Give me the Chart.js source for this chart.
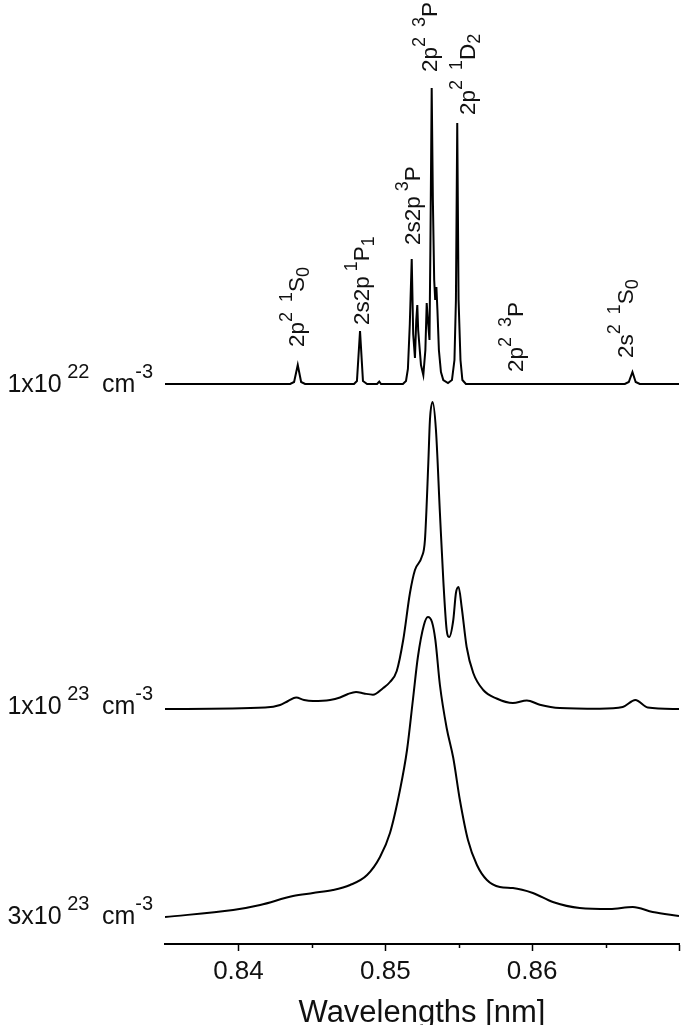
<!DOCTYPE html>
<html>
<head>
<meta charset="utf-8">
<script src="https://cdn.jsdelivr.net/npm/chart.js@4.4.1/dist/chart.umd.min.js"></script>
<style>
  html, body { margin: 0; padding: 0; background: #fff; }
  #wrap { width: 685px; height: 1025px; position: relative; }
</style>
</head>
<body>
<div id="wrap"><canvas id="myChart"></canvas></div>
<script>
// spectra (wavelength in nm, intensity in arbitrary units above each baseline)
const wl22 = [0.835, 0.84352, 0.84379, 0.84404, 0.84427, 0.84454, 0.84787, 0.84807, 0.84828, 0.84848, 0.84876, 0.84944, 0.84959, 0.84971,
    0.85120, 0.85141, 0.85154, 0.85167, 0.85180, 0.85190, 0.85202, 0.85211, 0.85218, 0.85224, 0.85231, 0.85243, 0.85259, 0.85273,
    0.85282, 0.85290, 0.85301, 0.85307, 0.85316, 0.85324, 0.85333, 0.85340, 0.85348, 0.85355, 0.85365, 0.85379, 0.85395, 0.85427,
    0.85454, 0.85471, 0.85481, 0.85490, 0.85499, 0.85512, 0.85525, 0.85549, 0.86631, 0.86658, 0.86683, 0.86705, 0.86733, 0.870]
const int22 = [0, 0, 2, 19, 2, 0, 0, 3, 53, 3, 0, 0, 2.5, 0,
    0, 3, 15, 60, 125, 50, 26, 64, 79, 54, 41, 19, 9, 34,
    81, 64, 44, 134, 296, 184, 104, 84, 97, 74, 34, 12, 4, 1,
    4, 24, 84, 261, 84, 24, 4, 0, 0, 2, 12, 2, 0, 0]

const wl23 = [0.835, 0.84182, 0.84284, 0.84338, 0.84393, 0.84447, 0.84508, 0.84624, 0.84692, 0.84746, 0.84801, 0.84855, 0.84916,
    0.84986, 0.85032, 0.85078, 0.85122, 0.85168, 0.85202, 0.85248, 0.85270, 0.85293, 0.85304, 0.85322, 0.85345, 0.85372, 0.85395,
    0.85418, 0.85435, 0.85463, 0.85481, 0.85499, 0.85520, 0.85554, 0.85599, 0.85667, 0.85758, 0.85869, 0.85964, 0.86052, 0.86188,
    0.86461, 0.86617, 0.86703, 0.86787, 0.870]
const int23 = [0, 1.5, 4, 8, 11.5, 9, 8, 9, 11.5, 15, 17, 15.5, 14.3,
    21, 27, 38, 69, 116, 139, 152, 169, 246, 289, 307, 279, 196, 129,
    79, 72, 89, 116, 122, 102, 62, 36, 19, 10.5, 6, 8.5, 4.3, 1,
    0.3, 2, 9, 1.5, 0]

const wl3e23 = [0.835, 0.83964, 0.84148, 0.84372, 0.84508, 0.84644, 0.84760, 0.84876, 0.84964, 0.85032, 0.85100, 0.85148,
    0.85188, 0.85222, 0.85263, 0.85290, 0.85318, 0.85341, 0.85372, 0.85418, 0.85463, 0.85508, 0.85563, 0.85624, 0.85692,
    0.85780, 0.85869, 0.86005, 0.86141, 0.86324, 0.86529, 0.86685, 0.86821, 0.870]
const int3e23 = [0, 7, 12, 21, 24, 27, 32, 42, 60, 84, 127, 167,
    217, 260, 292, 300, 295, 277, 232, 189, 159, 117, 77, 52, 37,
    30, 29, 24, 15, 9, 8, 10, 5, 1]

// vertical shift of each spectrum
const off22 = 560
const off23 = 235
const off3e23 = 27

const tickValues = [0.84, 0.85, 0.86, 0.87]
const tickLabels = ['0.84', '0.85', '0.86', '']
const minorTicks = [0.845, 0.855, 0.865]

// density labels on the left: [text, kind]
const densityLabels = [
    { parts: [['1x10', 'n'], [' 22 ', 'sup'], [' cm', 'n'], ['-3', 'sup']], y: 552 },
    { parts: [['1x10', 'n'], [' 23 ', 'sup'], [' cm', 'n'], ['-3', 'sup']], y: 230 },
    { parts: [['3x10', 'n'], [' 23 ', 'sup'], [' cm', 'n'], ['-3', 'sup']], y: 20 }
]

// line identifications (rotated text), wl = baseline position, y = bottom of the text
const lineLabels = [
    { parts: [['2p', 'n'], ['2  1', 'sup'], ['S', 'n'], ['0', 'sub']], wl: 0.84447, y: 597 },
    { parts: [['2s2p', 'n'], [' 1', 'sup'], ['P', 'n'], ['1', 'sub']], wl: 0.84889, y: 619 },
    { parts: [['2s2p', 'n'], [' 3', 'sup'], ['P', 'n']], wl: 0.85236, y: 699 },
    { parts: [['2p', 'n'], ['2  3', 'sup'], ['P', 'n']], wl: 0.85352, y: 872 },
    { parts: [['2p', 'n'], ['2  1', 'sup'], ['D', 'n'], ['2', 'sub']], wl: 0.85610, y: 829 },
    { parts: [['2p', 'n'], ['2  3', 'sup'], ['P', 'n']], wl: 0.85937, y: 572 },
    { parts: [['2s', 'n'], ['2  1', 'sup'], ['S', 'n'], ['0', 'sub']], wl: 0.86685, y: 586 }
]

const FONT = '"Liberation Sans", Arial, sans-serif'

function toPoints(wl, vals, off){
    return wl.map((w, i) => ({ x: w, y: off + vals[i] }))
}

function drawRich(ctx, parts, x, y, base, small, measureOnly){
    let cx = x
    parts.forEach(p => {
        const txt = p[0], kind = p[1]
        const size = kind == 'n' ? base : small
        ctx.font = size + 'px ' + FONT
        let dy = 0
        if (kind == 'sup') dy = -base * 0.55
        if (kind == 'sub') dy = base * 0.22
        if (!measureOnly) ctx.fillText(txt, cx, y + dy)
        cx += ctx.measureText(txt).width
    })
    return cx - x
}

const labelPlugin = {
    id: 'labels',
    afterDraw(chart){
        const ctx = chart.ctx
        const xs = chart.scales.x, ys = chart.scales.y
        ctx.save()
        ctx.strokeStyle = '#000'
        ctx.lineWidth = 1.5
        minorTicks.forEach(v => {
            const px = Math.round(xs.getPixelForValue(v)) + 0.5
            ctx.beginPath()
            ctx.moveTo(px, xs.top)
            ctx.lineTo(px, xs.top + 4)
            ctx.stroke()
        })

        ctx.fillStyle = '#111'
        ctx.textBaseline = 'alphabetic'
        ctx.textAlign = 'left'
        lineLabels.forEach(l => {
            ctx.save()
            ctx.translate(xs.getPixelForValue(l.wl), ys.getPixelForValue(l.y))
            ctx.rotate(-Math.PI / 2)
            drawRich(ctx, l.parts, 0, 0, 22.5, 18)
            ctx.restore()
        })

        densityLabels.forEach(l => {
            const w = drawRich(ctx, l.parts, 0, 0, 25, 20, true)
            drawRich(ctx, l.parts, 153 - w, ys.getPixelForValue(l.y), 25, 20)
        })
        ctx.restore()
    }
}

new Chart('myChart', {
    type: 'line',
    data: {
        datasets: [
            { data: toPoints(wl22, int22, off22), tension: 0 },
            { data: toPoints(wl23, int23, off23), cubicInterpolationMode: 'monotone' },
            { data: toPoints(wl3e23, int3e23, off3e23), cubicInterpolationMode: 'monotone' }
        ].map(d => Object.assign(d, { borderColor: '#000', borderWidth: 2, pointRadius: 0, fill: false }))
    },
    options: {
        responsive: true,
        maintainAspectRatio: false,
        animation: false,
        layout: { padding: { left: 165, right: 6, top: 0, bottom: 0 } },
        plugins: { legend: { display: false }, tooltip: { enabled: false } },
        scales: {
            x: {
                type: 'linear',
                min: 0.835,
                max: 0.870,
                afterBuildTicks: s => { s.ticks = tickValues.map(v => ({ value: v })) },
                afterFit: s => { s.height = 81 },
                ticks: {
                    callback: (v, i) => tickLabels[i],
                    font: { family: FONT, size: 26 },
                    color: '#111',
                    padding: 5,
                    maxRotation: 0,
                    autoSkip: false
                },
                grid: { drawOnChartArea: false, drawTicks: true, tickLength: 7, color: '#000', tickWidth: 1.5 },
                border: { display: true, color: '#000', width: 2 },
                title: {
                    display: true,
                    text: 'Wavelengths [nm]',
                    font: { family: FONT, size: 31, lineHeight: 0.74 },
                    color: '#111',
                    padding: 0
                }
            },
            y: { min: 0, max: 944, display: false }
        }
    },
    plugins: [labelPlugin]
})
</script>
</body>
</html>
